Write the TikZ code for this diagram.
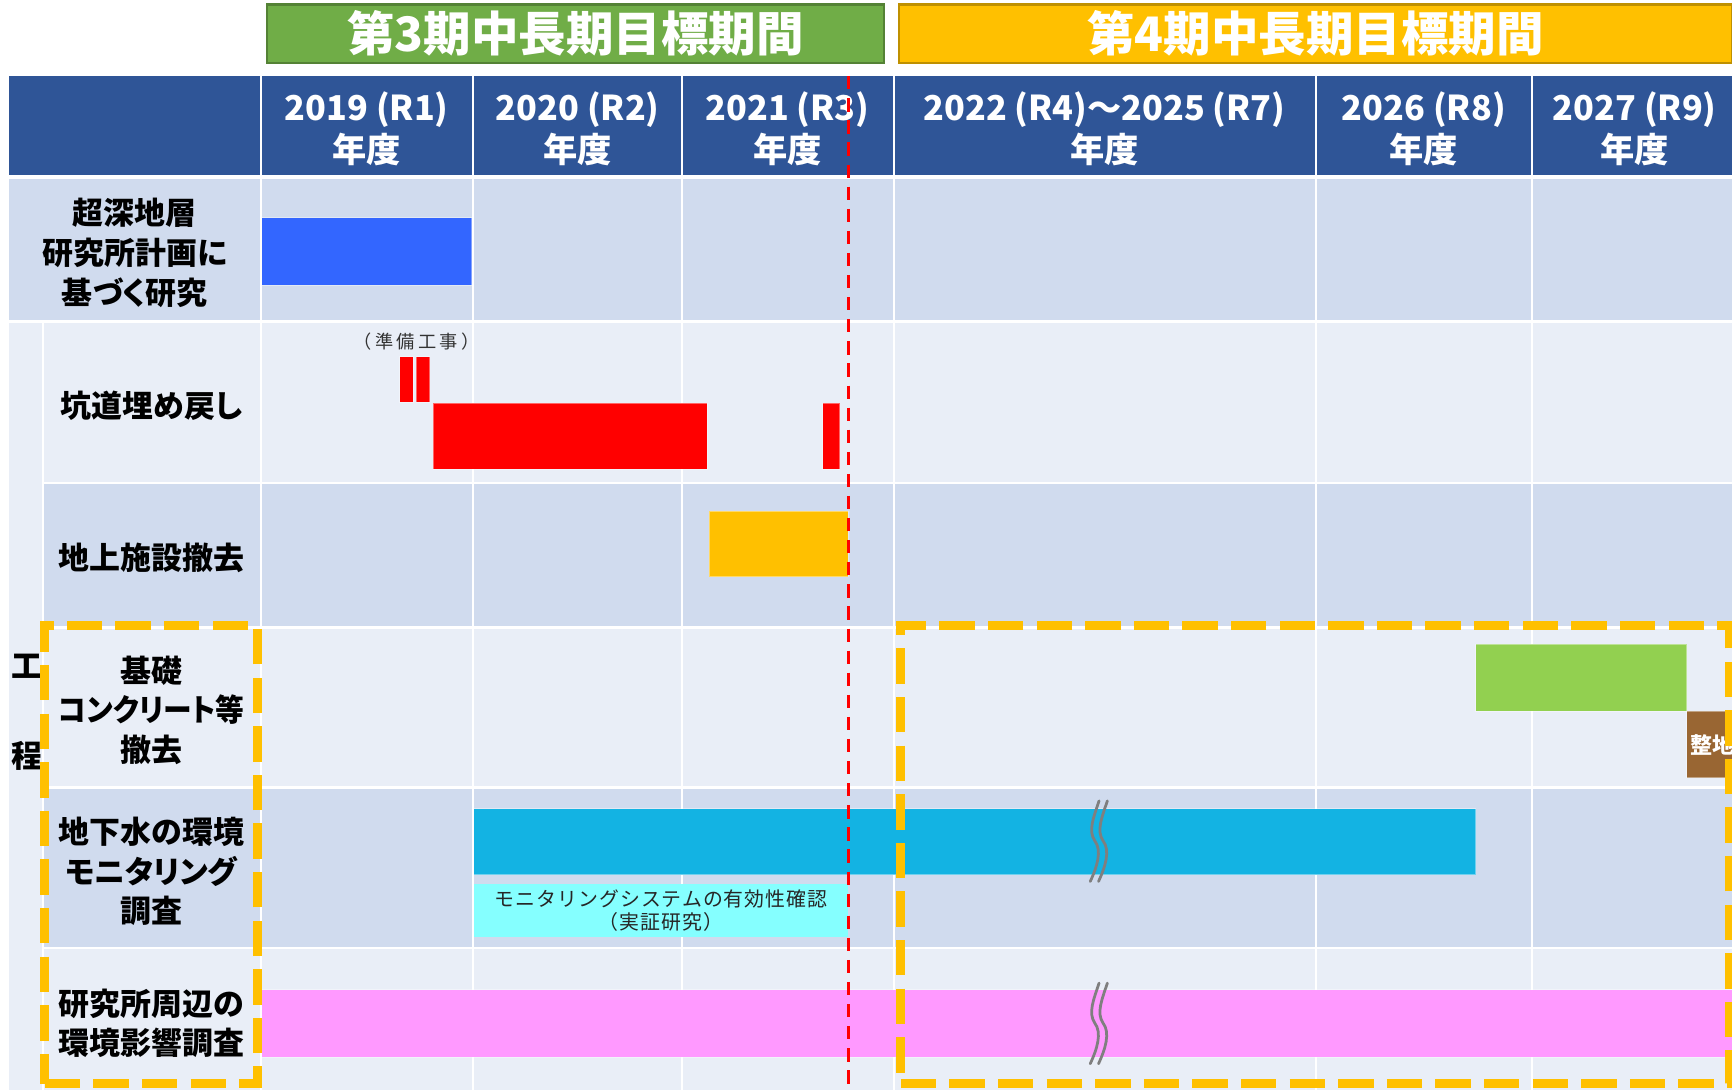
\documentclass[tikz,border=0pt]{standalone}
\usepackage{fontspec}
\newfontfamily\jp{Noto Sans CJK JP}
\newfontfamily\jpp{Noto Sans CJK JP}[RawFeature={+palt}]
\newfontfamily\jpsp{Noto Sans CJK JP}[LetterSpace=18]
\newfontfamily\jpmon{Noto Sans CJK JP}[LetterSpace=5]
\definecolor{hdr}{HTML}{2F5597}
\definecolor{rowd}{HTML}{D0DBEE}
\definecolor{rowl}{HTML}{E9EEF7}
\definecolor{gthree}{HTML}{70AD47}
\definecolor{gthreedk}{HTML}{548235}
\definecolor{yfour}{HTML}{FFC000}
\definecolor{yfourdk}{HTML}{BF9000}
\definecolor{barblue}{HTML}{3366FF}
\definecolor{barred}{HTML}{FF0000}
\definecolor{barorange}{HTML}{FFC000}
\definecolor{bargreen}{HTML}{92D050}
\definecolor{barbrown}{HTML}{996633}
\definecolor{barcyan}{HTML}{13B3E3}
\definecolor{lcyan}{HTML}{85FFFF}
\definecolor{barpink}{HTML}{FF99FF}
\definecolor{brkgray}{HTML}{7F7F7F}
\begin{document}
\begin{tikzpicture}[x=1pt,y=-1pt,
  every node/.style={inner sep=0pt, outer sep=0pt},
  banner/.style={draw, line width=2pt, text=white, font=\jp\bfseries\fontsize{43}{43}\selectfont, minimum height=53},
  hdrtxt/.style={text=white, font=\jp\bfseries\fontsize{31}{38}\selectfont, align=center},
  lbl/.style={font=\jpp\bfseries\fontsize{28}{36}\selectfont, align=center},
  bar/.style={draw=white, draw opacity=0.4, line width=0.8pt},
  gridline/.style={white, line width=2pt},
  reddash/.style={barred, line width=3pt, dash pattern=on 12pt off 8pt},
  ydash/.style={draw=yfour, line width=8pt, dash pattern=on 32pt off 12pt},
  brk/.style={brkgray, line width=2.5pt, line cap=round},
  smalltxt/.style={font=\jpsp\fontsize{16.5}{20}\selectfont, text=black!80},
]
\useasboundingbox (0,0) rectangle (1568,987);
\fill[white] (0,0) rectangle (1568,987);
\clip (0,0) rectangle (1568,987);

% banners
\node[banner, fill=gthree, draw=gthreedk, minimum width=558] (bthree) at (521,30.5) {第3期中長期目標期間};
\node[banner, fill=yfour, draw=yfourdk, minimum width=754] (bfour) at (1191,30.5) {第4期中長期目標期間};

% header row
\fill[hdr] (8,69) rectangle (1568,158);

% body rows
\fill[rowd] (8,162) rectangle (1568,290);
\fill[rowl] (8,292) rectangle (38,987);
\fill[rowl] (40,292) rectangle (1568,436);
\fill[rowd] (40,438) rectangle (1568,567);
\fill[rowl] (40,569) rectangle (1568,712);
\fill[rowd] (40,714) rectangle (1568,857);
\fill[rowl] (40,859) rectangle (1568,987);

% column separators
\foreach \cx in {236,428.5,617.5,809,1191.5,1387}
  \draw[gridline] (\cx,69) -- (\cx,987);

% header texts
\node[hdrtxt] (h1) at (332,117) {2019 (R1)\\年度};
\node[hdrtxt] (h2) at (523,117) {2020 (R2)\\年度};
\node[hdrtxt] (h3) at (713,117) {2021 (R3)\\年度};
\node[hdrtxt] (h4) at (1000,117) {2022 (R4)～2025 (R7)\\年度};
\node[hdrtxt] (h5) at (1289,117) {2026 (R8)\\年度};
\node[hdrtxt] (h6) at (1480,117) {2027 (R9)\\年度};

% row labels
\node[lbl] (l1) at (122,229) {超深地層\\研究所計画に\\基づく研究};
\node[lbl] (l2) at (137,367) {坑道埋め戻し};
\node[lbl] (l3) at (137,505) {地上施設撤去};
\node[lbl] (l4) at (137,643) {基礎\\\scalebox{0.93}[1]{コンクリート等}\\撤去};
\node[lbl] (l5) at (137,789) {地下水の環境\\モニタリング\\調査};
\node[lbl] (l6) at (137,926.5) {研究所周辺の\\環境影響調査};
\node[lbl] (k1) at (24,603) {工};
\node[lbl] (k2) at (24,684) {程};

% bars
\node[bar, fill=barblue, minimum width=190, minimum height=61] (blue) at (332,227.5) {};
\node[smalltxt] (prep) at (377,309) {（準備工事）};
\node[bar, fill=barred, minimum width=12, minimum height=41] (rs1) at (368,343.5) {};
\node[bar, fill=barred, minimum width=12, minimum height=41] (rs2) at (383,343.5) {};
\node[bar, fill=barred, minimum width=248, minimum height=60] (rbig) at (516,395) {};
\node[bar, fill=barred, minimum width=15, minimum height=60] (rend) at (752.5,395) {};
\node[bar, fill=barorange, minimum width=126, minimum height=59] (orng) at (705,492.5) {};
\node[bar, fill=bargreen, minimum width=191, minimum height=61] (grn) at (1431.5,613.5) {};
\node[bar, fill=barbrown, minimum width=50, minimum height=60, anchor=west, text=white,
      font=\jp\bfseries\fontsize{20}{20}\selectfont, inner xsep=3pt, align=left, text width=44] (brn) at (1527,674) {整地};
\node[bar, fill=barcyan, minimum width=907, minimum height=60] (cyan) at (882.5,762) {};
\node[fill=lcyan, minimum width=339, minimum height=48, align=center,
      font=\jpmon\fontsize{18}{21}\selectfont, text=black!85] (mon) at (598.5,824)
      {モニタリングシステムの有効性確認\\（実証研究）};
\node[bar, fill=barpink, minimum width=1343, minimum height=61] (pink) at (908.5,926.5) {};

% break marks
\foreach \dy in {0,165}{
  \begin{scope}[shift={(0,\dy)}]
    \draw[brk] (995,725) .. controls (990,740) and (985,752) .. (991,761) .. controls (998,770) and (993,785) .. (987,798);
    \draw[brk] (1002.5,725) .. controls (997.5,740) and (992.5,752) .. (998.5,761) .. controls (1005.5,770) and (1000.5,785) .. (994.5,798);
  \end{scope}
}

% red dashed boundary line
\coordinate (rtop) at (768,69);
\coordinate (rbot) at (768,987);
\draw[reddash] (rtop) -- (rbot);

% yellow dashed groups
\node[ydash, minimum width=192.5, minimum height=415] (grpL) at (136.75,773.5) {};
\node[ydash, minimum width=750, minimum height=415] (grpR) at (1190.5,773.5) {};
\end{tikzpicture}
\end{document}
